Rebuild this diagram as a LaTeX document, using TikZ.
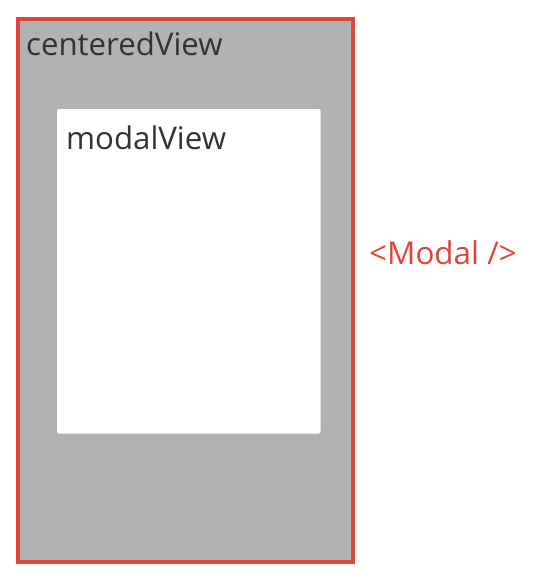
\documentclass[tikz,border=0pt]{standalone}
\usepackage{fontspec}
\setmainfont{Open Sans}
\definecolor{bordred}{HTML}{E0453A}
\definecolor{viewgray}{HTML}{B1B2B4}
\definecolor{txtgray}{HTML}{333333}
\begin{document}
\begin{tikzpicture}[x=1pt,y=-1pt,
  lbl/.style={anchor=base west,inner sep=0pt,text=txtgray,font=\fontsize{31.2}{34}\selectfont},
  redlbl/.style={anchor=base west,inner sep=0pt,text=bordred,font=\fontsize{31.4}{34}\selectfont}]
\useasboundingbox (0,0) rectangle (533,578);
\draw[line width=4pt,draw=bordred,fill=viewgray] (18,19) rectangle (352.5,562);
\fill[white,rounded corners=2pt] (57,109) rectangle (320.5,433.5);
\node[lbl] (cv) at (26,56) {centeredView};
\node[lbl] (mv) at (66,149) {modalView};
\node[redlbl] (md) at (369,264) {<Modal />};
\end{tikzpicture}
\end{document}
